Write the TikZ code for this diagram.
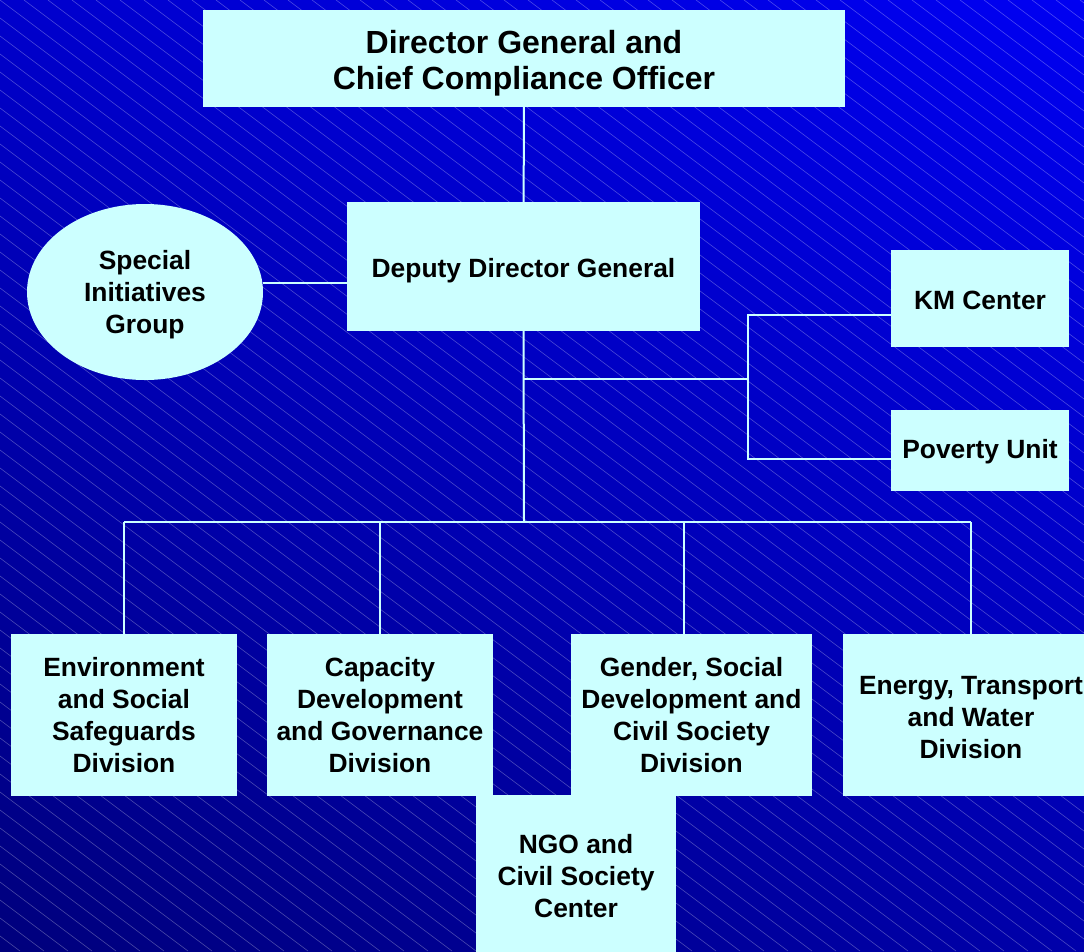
\documentclass[tikz,border=0pt]{standalone}
\usepackage{fontspec}
\setmainfont{Liberation Sans}
\usetikzlibrary{shapes.geometric,shadings}
\definecolor{boxfill}{HTML}{CCFFFF}
\definecolor{bgtl}{HTML}{0000CC}
\definecolor{bgtr}{HTML}{0000F2}
\definecolor{bgbl}{HTML}{00007C}
\definecolor{bgbr}{HTML}{0000AA}
\newcommand{\lift}[1]{\rule{0pt}{#1pt}}
\begin{document}
\begin{tikzpicture}[x=1pt, y=-1pt,
    unit/.style n args={2}{draw=none, fill=boxfill, inner sep=0pt, align=center,
      minimum width=#1pt, minimum height=#2pt,
      font=\bfseries\fontsize{26.4}{32}\selectfont},
    drop/.style={text height=#1pt},
    conn/.style={draw=boxfill, line width=2pt}]
  \useasboundingbox (0,0) rectangle (1084,951);
  \clip (0,0) rectangle (1084,951);
  \shade[upper left=bgtl, upper right=bgtr, lower left=bgbl, lower right=bgbr]
    (0,0) rectangle (1084,951);
  \foreach \i in {-1272,-1248,...,1090}
    \draw[white, opacity=0.28, line width=0.6pt] (\i,0) -- ++(1268,951);

  \node[unit={642}{97}, font=\bfseries\fontsize{32}{36}\selectfont] (dg) at (524,58.5)
    {\lift{33}Director General and\\Chief Compliance Officer};
  \node[unit={353}{129}, drop=27] (ddg) at (523.5,266.5) {Deputy Director General};
  \node[unit={236}{176}, ellipse] (sig) at (145,292) {\lift{25}Special\\Initiatives\\Group};
  \node[unit={178}{97}, drop=23] (km) at (980,298.5) {KM Center};
  \node[unit={178}{81}, drop=22] (pov) at (980,450.5) {Poverty Unit};

  \coordinate (fork) at (524,379);
  \coordinate (side) at (748,379);
  \coordinate (bus) at (524,522);
  \coordinate (gentop) at (684,634);

  \node[unit={226}{162}] (env) at (124,715) {Environment\\and Social\\Safeguards\\Division};
  \node[unit={226}{162}] (cap) at (380,715) {Capacity\\Development\\and Governance\\Division};
  \node[unit={241}{162}] (gen) at (691.5,715) {Gender, Social\\Development and\\Civil Society\\Division};
  \node[unit={256}{162}] (ene) at (971,715) {\lift{23}Energy, Transport\\and Water\\Division};
  \node[unit={200}{157}] (ngo) at (576,873.5) {\lift{25}NGO and\\Civil Society\\Center};

  % links
  \path[conn] (dg) -- (ddg);
  \path[conn] (sig.east |- 0,283) -- (ddg.west |- 0,283);
  \path[conn] (ddg.south) -- (bus);
  \path[conn] (fork) -- (side);
  \path[conn] (km.west |- 0,315) -| (side) |- (pov.west |- 0,459);
  \path[conn] (env.north |- bus) -- (ene.north |- bus);
  \foreach \n in {env,cap,ene}
    \path[conn] (\n.north) -- (\n.north |- bus);
  \path[conn] (gentop) -- (gentop |- bus);
\end{tikzpicture}
\end{document}
